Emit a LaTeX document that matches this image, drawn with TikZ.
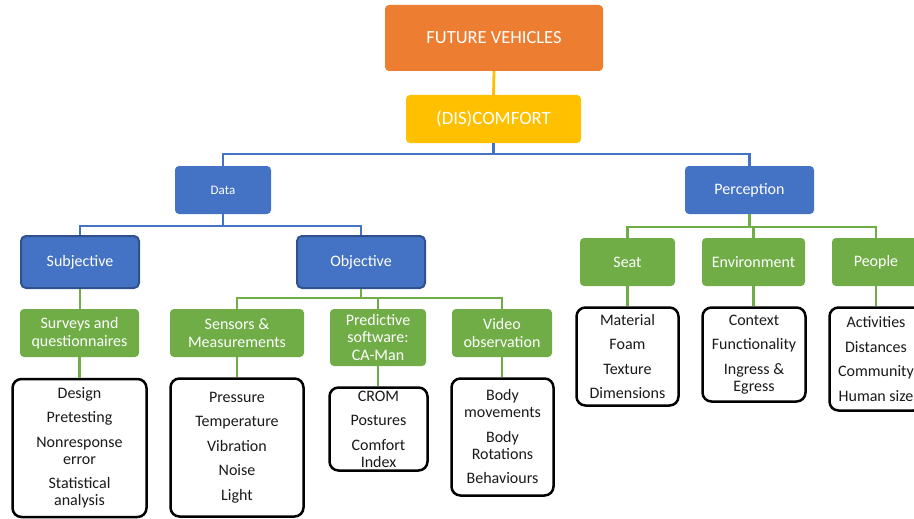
\documentclass[tikz,border=0pt]{standalone}
\usepackage{fontspec}
\setmainfont{Carlito}
\definecolor{orng}{HTML}{ED7D31}
\definecolor{yel}{HTML}{FFC000}
\definecolor{blu}{HTML}{4472C4}
\definecolor{blubd}{HTML}{2F528F}
\definecolor{grn}{HTML}{70AD47}
\definecolor{leaftext}{HTML}{1A1A1A}
\begin{document}
\begin{tikzpicture}[x=1pt,y=-1pt,
  sz/.style 2 args={minimum width=#1pt, minimum height=#2pt},
  box/.style={rectangle, rounded corners=4pt, inner sep=0pt, align=center, text=white,
    font=\fontsize{16}{17.5}\selectfont},
  orangebox/.style={box, fill=orng, font=\fontsize{18.5}{20}\selectfont},
  yellowbox/.style={box, fill=yel, font=\fontsize{18.8}{20}\selectfont},
  bluebox/.style={box, fill=blu},
  bluebd/.style={box, fill=blu, draw=blubd, line width=2pt, rounded corners=5pt},
  greenbox/.style={box, fill=grn},
  leaf/.style={rectangle, draw=black, fill=white, line width=2.5pt, rounded corners=9pt,
    inner sep=0pt, align=center, text=leaftext, font=\fontsize{16}{17}\selectfont},
  yl/.style={draw=yel, line width=2.8pt},
  bl/.style={draw=blu, line width=2.8pt},
  gl/.style={draw=grn, line width=2.8pt}
]
\useasboundingbox (0,0) rectangle (914,519);
\clip (0,0) rectangle (914,519);
\fill[white] (0,0) rectangle (914,519);

% top
\node[orangebox, sz={218}{66}] (fv) at (494,38) {FUTURE VEHICLES};
\node[yellowbox, sz={175}{48}] (disc) at (493.5,119) {(DIS)COMFORT};

% level 2
\node[bluebox, sz={96}{48}, font=\fontsize{13}{15}\selectfont] (data) at (223,190) {Data};
\node[bluebox, sz={129}{48}] (perc) at (749.5,190) {Perception};

% level 3 (data)
\node[bluebd, sz={118}{52}] (subj) at (80,262) {Subjective};
\node[bluebd, sz={128}{52}] (obj) at (361,262) {Objective};

% level 4 (data)
\node[greenbox, sz={119}{48}] (surv) at (79.5,333) {Surveys and\\questionnaires};
\node[greenbox, sz={134}{48}] (sens) at (237,333) {Sensors \&\\Measurements};
\node[greenbox, sz={96}{57}] (pred) at (378,337.5) {Predictive\\software:\\CA-Man};
\node[greenbox, sz={100}{48}] (video) at (502,333) {Video\\observation};

% level 3 (perception)
\node[greenbox, sz={95}{48}] (seat) at (627.5,262) {Seat};
\node[greenbox, sz={103}{48}] (env) at (753.5,262) {Environment};
\node[greenbox, sz={88}{48}] (people) at (876,262) {People};

% leaves
\node[leaf, sz={134}{138}] (l1) at (79.5,448) {Design\\[7.5pt]Pretesting\\[7.5pt]Nonresponse\\error\\[7.5pt]Statistical\\analysis};
\node[leaf, sz={133}{138}] (l2) at (237,447.5) {Pressure\\[7.5pt]Temperature\\[7.5pt]Vibration\\[7.5pt]Noise\\[7.5pt]Light};
\node[leaf, sz={98}{83}] (l3) at (378.5,429) {CROM\\[7.5pt]Postures\\[7.5pt]Comfort\\Index};
\node[leaf, sz={102}{117}] (l4) at (502.5,437) {Body\\movements\\[7.5pt]Body\\Rotations\\[7.5pt]Behaviours};
\node[leaf, sz={102}{98}] (l5) at (627.5,356.5) {Material\\[7.5pt]Foam\\[7.5pt]Texture\\[7.5pt]Dimensions};
\node[leaf, sz={103}{94}] (l6) at (754,354.5) {Context\\[7.5pt]Functionality\\[7.5pt]Ingress \&\\Egress};
\node[leaf, sz={93}{103}] (l7) at (876,359) {Activities\\[7.5pt]Distances\\[7.5pt]Community\\[7.5pt]Human size};

% connectors
\draw[yl] (fv.south) -- (disc.north);
\draw[bl] (disc.south) -- (disc.south |- 0,154) -| (data.north);
\draw[bl] (disc.south |- 0,154) -| (perc.north);
\draw[bl] (data.south) -- (data.south |- 0,226) -| (subj.north);
\draw[bl] (data.south |- 0,226) -| (obj.north);
\draw[gl] (subj.south) -- (subj.south |- surv.north);
\draw[gl] (obj.south) -- (obj.south |- 0,298) -| (sens.north);
\draw[gl] (obj.south |- 0,298) -| (pred.north);
\draw[gl] (obj.south |- 0,298) -| (video.north);
\draw[gl] (perc.south) -- (perc.south |- 0,227) -| (seat.north);
\draw[gl] (perc.south |- 0,227) -| (env.north);
\draw[gl] (perc.south |- 0,227) -| (people.north);
\draw[gl] (surv.south) -- (surv.south |- l1.north);
\draw[gl] (sens.south) -- (sens.south |- l2.north);
\draw[gl] (pred.south) -- (pred.south |- l3.north);
\draw[gl] (video.south) -- (video.south |- l4.north);
\draw[gl] (seat.south) -- (seat.south |- l5.north);
\draw[gl] (env.south) -- (env.south |- l6.north);
\draw[gl] (people.south) -- (people.south |- l7.north);
\end{tikzpicture}
\end{document}
